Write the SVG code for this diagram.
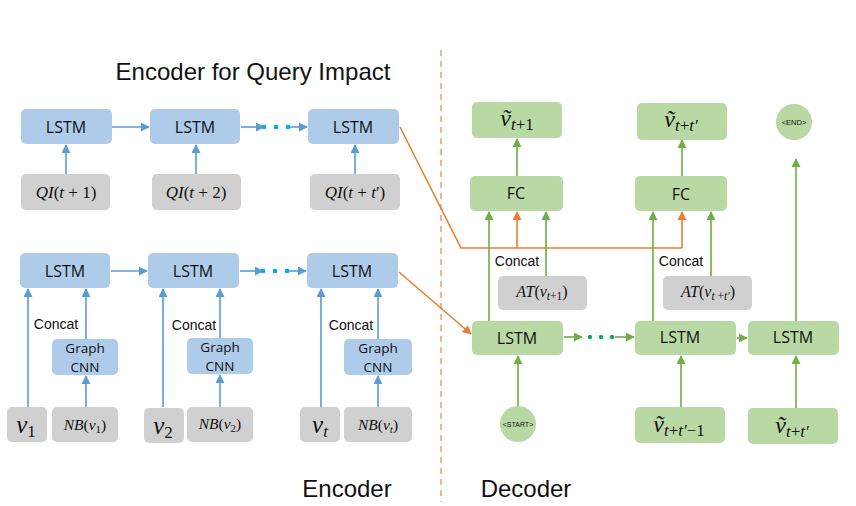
<svg xmlns="http://www.w3.org/2000/svg" width="856" height="506" viewBox="0 0 856 506">
<style>
.blue{fill:#AECBEA}
.gray{fill:#D0D0D0}
.green{fill:#B8D8A4}
.lbl{font-family:"Open Sans","Noto Sans",sans-serif;font-size:16px;fill:#111;text-anchor:middle;dominant-baseline:central}
.sm{font-size:13.5px}
.math{font-family:"Liberation Serif","DejaVu Serif",serif;font-style:italic;fill:#111;text-anchor:middle}
.up{font-style:normal}
.cc{font-family:"Liberation Sans",Arial,sans-serif;font-size:14px;fill:#111;text-anchor:middle}
.big{font-family:"Liberation Sans",Arial,sans-serif;font-size:24px;fill:#111;text-anchor:middle}
.cb{stroke:#5B9BD5;stroke-width:1.6;fill:none}
.cg{stroke:#70AD47;stroke-width:1.6;fill:none}
.co{stroke:#ED7D31;stroke-width:1.6;fill:none}
</style>
<defs>
<marker id="ab" viewBox="0 0 10 10" refX="9" refY="5" markerWidth="9" markerHeight="9" markerUnits="userSpaceOnUse" orient="auto"><path d="M0,0L10,5L0,10z" fill="#5B9BD5"/></marker>
<marker id="ag" viewBox="0 0 10 10" refX="9" refY="5" markerWidth="9" markerHeight="9" markerUnits="userSpaceOnUse" orient="auto"><path d="M0,0L10,5L0,10z" fill="#70AD47"/></marker>
<marker id="ao" viewBox="0 0 10 10" refX="9" refY="5" markerWidth="9" markerHeight="9" markerUnits="userSpaceOnUse" orient="auto"><path d="M0,0L10,5L0,10z" fill="#ED7D31"/></marker>
</defs>
<rect width="856" height="506" fill="#fff"/>

<!-- divider -->
<line x1="441" y1="50" x2="441" y2="502" stroke="#F4A46E" stroke-width="1.6" stroke-dasharray="6,5"/>

<!-- titles -->
<text class="big" x="253" y="80">Encoder for Query Impact</text>
<text class="big" x="347" y="497">Encoder</text>
<text class="big" x="526" y="497">Decoder</text>

<g id="connectors">
<line class="cb" x1="66" y1="174" x2="66" y2="145" marker-end="url(#ab)"/>
<line class="cb" x1="196" y1="174" x2="196" y2="145" marker-end="url(#ab)"/>
<line class="cb" x1="355" y1="174" x2="355" y2="145" marker-end="url(#ab)"/>
<line class="cb" x1="112" y1="127" x2="149" y2="127" marker-end="url(#ab)"/>
<line class="cb" x1="241" y1="127" x2="264" y2="127" marker-end="url(#ab)"/>
<line class="cb" x1="290" y1="127" x2="307" y2="127" marker-end="url(#ab)"/>
<g fill="#00B0F0"><rect x="262" y="125" width="4" height="4"/><rect x="274" y="125" width="4" height="4"/><rect x="286" y="125" width="4" height="4"/></g>
<line class="cb" x1="111" y1="271" x2="147" y2="271" marker-end="url(#ab)"/>
<line class="cb" x1="240" y1="271" x2="263" y2="271" marker-end="url(#ab)"/>
<line class="cb" x1="289" y1="271" x2="306" y2="271" marker-end="url(#ab)"/>
<g fill="#00B0F0"><rect x="261" y="269" width="4" height="4"/><rect x="273" y="269" width="4" height="4"/><rect x="285" y="269" width="4" height="4"/></g>
<line class="cb" x1="28" y1="407" x2="28" y2="289" marker-end="url(#ab)"/>
<line class="cb" x1="86" y1="339" x2="86" y2="289" marker-end="url(#ab)"/>
<line class="cb" x1="86" y1="407" x2="86" y2="376" marker-end="url(#ab)"/>
<line class="cb" x1="163" y1="407" x2="163" y2="289" marker-end="url(#ab)"/>
<line class="cb" x1="220" y1="338" x2="220" y2="289" marker-end="url(#ab)"/>
<line class="cb" x1="220" y1="407" x2="220" y2="375" marker-end="url(#ab)"/>
<line class="cb" x1="321" y1="407" x2="321" y2="289" marker-end="url(#ab)"/>
<line class="cb" x1="378" y1="339" x2="378" y2="289" marker-end="url(#ab)"/>
<line class="cb" x1="378" y1="407" x2="378" y2="376" marker-end="url(#ab)"/>
<polyline class="co" points="400,127 461,248 682,248"/>
<line class="co" x1="517" y1="248" x2="517" y2="212" marker-end="url(#ao)"/>
<line class="co" x1="682" y1="248" x2="682" y2="212" marker-end="url(#ao)"/>
<line class="co" x1="399" y1="272" x2="471" y2="334" marker-end="url(#ao)"/>
<line class="cg" x1="517" y1="176" x2="517" y2="139" marker-end="url(#ag)"/>
<line class="cg" x1="682" y1="176" x2="682" y2="140" marker-end="url(#ag)"/>
<line class="cg" x1="489" y1="321" x2="489" y2="212" marker-end="url(#ag)"/>
<line class="cg" x1="546" y1="276" x2="546" y2="212" marker-end="url(#ag)"/>
<line class="cg" x1="653" y1="321" x2="653" y2="212" marker-end="url(#ag)"/>
<line class="cg" x1="711" y1="276" x2="711" y2="212" marker-end="url(#ag)"/>
<line class="cg" x1="796" y1="321" x2="796" y2="159" marker-end="url(#ag)"/>
<line class="cg" x1="518" y1="406" x2="518" y2="356" marker-end="url(#ag)"/>
<line class="cg" x1="681" y1="407" x2="681" y2="356" marker-end="url(#ag)"/>
<line class="cg" x1="796" y1="408" x2="796" y2="356" marker-end="url(#ag)"/>
<line class="cg" x1="564" y1="337" x2="582" y2="337" marker-end="url(#ag)"/>
<line class="cg" x1="615" y1="337" x2="634" y2="337" marker-end="url(#ag)"/>
<g fill="#00B050"><circle cx="590" cy="337" r="2.2"/><circle cx="601" cy="337" r="2.2"/><circle cx="612" cy="337" r="2.2"/></g>
<line class="cg" x1="737" y1="338" x2="747" y2="338" marker-end="url(#ag)"/>
</g>

<g id="qlstm1"><rect class="blue" x="21" y="109" width="91" height="35" rx="5"/><text class="lbl" x="66" y="127">LSTM</text></g>
<g id="qlstm2"><rect class="blue" x="150" y="109" width="90" height="35" rx="5"/><text class="lbl" x="195" y="127">LSTM</text></g>
<g id="qlstm3"><rect class="blue" x="308" y="109" width="91" height="35" rx="5"/><text class="lbl" x="353" y="127">LSTM</text></g>
<g id="qi1"><rect class="gray" x="21" y="174" width="89" height="36" rx="5"/><text class="math" x="66" y="198" font-size="17">QI<tspan class="up">(</tspan>t <tspan class="up">+ 1)</tspan></text></g>
<g id="qi2"><rect class="gray" x="152" y="174" width="89" height="36" rx="5"/><text class="math" x="196" y="198" font-size="17">QI<tspan class="up">(</tspan>t <tspan class="up">+ 2)</tspan></text></g>
<g id="qi3"><rect class="gray" x="310" y="174" width="90" height="36" rx="5"/><text class="math" x="355" y="198" font-size="17">QI<tspan class="up">(</tspan>t <tspan class="up">+ </tspan>t<tspan class="up">′)</tspan></text></g>

<g id="elstm1"><rect class="blue" x="20" y="253" width="90" height="35" rx="5"/><text class="lbl" x="65" y="271">LSTM</text></g>
<g id="elstm2"><rect class="blue" x="148" y="253" width="91" height="35" rx="5"/><text class="lbl" x="193" y="271">LSTM</text></g>
<g id="elstm3"><rect class="blue" x="307" y="253" width="91" height="35" rx="5"/><text class="lbl" x="352" y="271">LSTM</text></g>
<text class="cc" x="56" y="329">Concat</text>
<text class="cc" x="194" y="330">Concat</text>
<text class="cc" x="351" y="330">Concat</text>
<g id="gcnn1"><rect class="blue" x="52" y="339" width="66" height="36" rx="5"/><text class="lbl sm" x="85" y="348">Graph</text><text class="lbl sm" x="85" y="367">CNN</text></g>
<g id="gcnn2"><rect class="blue" x="187" y="338" width="66" height="36" rx="5"/><text class="lbl sm" x="220" y="347">Graph</text><text class="lbl sm" x="220" y="366">CNN</text></g>
<g id="gcnn3"><rect class="blue" x="344" y="339" width="68" height="36" rx="5"/><text class="lbl sm" x="378" y="348">Graph</text><text class="lbl sm" x="378" y="367">CNN</text></g>
<g id="v1"><rect class="gray" x="7" y="407" width="40" height="35" rx="5"/><text class="math" x="26" y="433" font-size="25">v<tspan class="up" font-size="17" dy="4">1</tspan></text></g>
<g id="nb1"><rect class="gray" x="52" y="407" width="66" height="35" rx="5"/><text class="math" x="85" y="430" font-size="15.5">NB<tspan class="up">(</tspan>v<tspan class="up" font-size="11" dy="3">1</tspan><tspan class="up" dy="-3">)</tspan></text></g>
<g id="v2"><rect class="gray" x="144" y="408" width="40" height="35" rx="5"/><text class="math" x="163" y="434" font-size="25">v<tspan class="up" font-size="17" dy="4">2</tspan></text></g>
<g id="nb2"><rect class="gray" x="187" y="407" width="66" height="35" rx="5"/><text class="math" x="220" y="429" font-size="15.5">NB<tspan class="up">(</tspan>v<tspan class="up" font-size="11" dy="3">2</tspan><tspan class="up" dy="-3">)</tspan></text></g>
<g id="vt"><rect class="gray" x="300" y="407" width="40" height="35" rx="5"/><text class="math" x="320" y="433" font-size="25">v<tspan font-size="17" dy="4">t</tspan></text></g>
<g id="nbt"><rect class="gray" x="344" y="407" width="68" height="35" rx="5"/><text class="math" x="378" y="430" font-size="15.5">NB<tspan class="up">(</tspan>v<tspan font-size="11" dy="3">t</tspan><tspan class="up" dy="-3">)</tspan></text></g>

<g id="out1"><rect class="green" x="472" y="102" width="90" height="36" rx="5"/><text class="math" x="517" y="126" font-size="24">ṽ<tspan font-size="17" dy="4">t</tspan><tspan class="up" font-size="17">+1</tspan></text></g>
<g id="out2"><rect class="green" x="637" y="103" width="90" height="37" rx="5"/><text class="math" x="681" y="127" font-size="24">ṽ<tspan font-size="17" dy="4">t</tspan><tspan class="up" font-size="17">+</tspan><tspan font-size="17">t′</tspan></text></g>
<g id="end"><circle cx="794" cy="122" r="18" fill="#B8D8A4"/><text x="794" y="122" font-family="Liberation Sans,Arial,sans-serif" font-size="7.5" fill="#111" text-anchor="middle" dominant-baseline="central">&lt;END&gt;</text></g>
<g id="fc1"><rect class="green" x="470" y="176" width="93" height="35" rx="5"/><text class="lbl" x="516" y="193">FC</text></g>
<g id="fc2"><rect class="green" x="635" y="176" width="92" height="35" rx="5"/><text class="lbl" x="681" y="194">FC</text></g>
<text class="cc" x="517" y="266">Concat</text>
<text class="cc" x="681" y="266">Concat</text>
<g id="at1"><rect class="gray" x="498" y="276" width="89" height="34" rx="5"/><text class="math" x="542" y="297" font-size="16">AT<tspan class="up">(</tspan>v<tspan font-size="11.5" dy="3">t</tspan><tspan class="up" font-size="11.5">+1</tspan><tspan class="up" dy="-3">)</tspan></text></g>
<g id="at2"><rect class="gray" x="663" y="276" width="89" height="34" rx="5"/><text class="math" x="708" y="297" font-size="16">AT<tspan class="up">(</tspan>v<tspan font-size="11.5" dy="3">t</tspan><tspan class="up" font-size="11.5"> +</tspan><tspan font-size="11.5">t′</tspan><tspan class="up" dy="-3">)</tspan></text></g>
<g id="dlstm1"><rect class="green" x="472" y="321" width="91" height="34" rx="5"/><text class="lbl" x="517" y="338">LSTM</text></g>
<g id="dlstm2"><rect class="green" x="635" y="321" width="101" height="34" rx="5"/><text class="lbl" x="680" y="337">LSTM</text></g>
<g id="dlstm3"><rect class="green" x="748" y="321" width="91" height="34" rx="5"/><text class="lbl" x="793" y="337">LSTM</text></g>
<g id="start"><circle cx="518" cy="424" r="18" fill="#B8D8A4"/><text x="518" y="424" font-family="Liberation Sans,Arial,sans-serif" font-size="7" fill="#111" text-anchor="middle" dominant-baseline="central">&lt;START&gt;</text></g>
<g id="in1"><rect class="green" x="635" y="407" width="90" height="36" rx="5"/><text class="math" x="679" y="432" font-size="24">ṽ<tspan font-size="17" dy="4">t</tspan><tspan class="up" font-size="17">+</tspan><tspan font-size="17">t′</tspan><tspan class="up" font-size="17">−1</tspan></text></g>
<g id="in2"><rect class="green" x="748" y="408" width="90" height="36" rx="5"/><text class="math" x="792" y="433" font-size="24">ṽ<tspan font-size="17" dy="4">t</tspan><tspan class="up" font-size="17">+</tspan><tspan font-size="17">t′</tspan></text></g>
</svg>
